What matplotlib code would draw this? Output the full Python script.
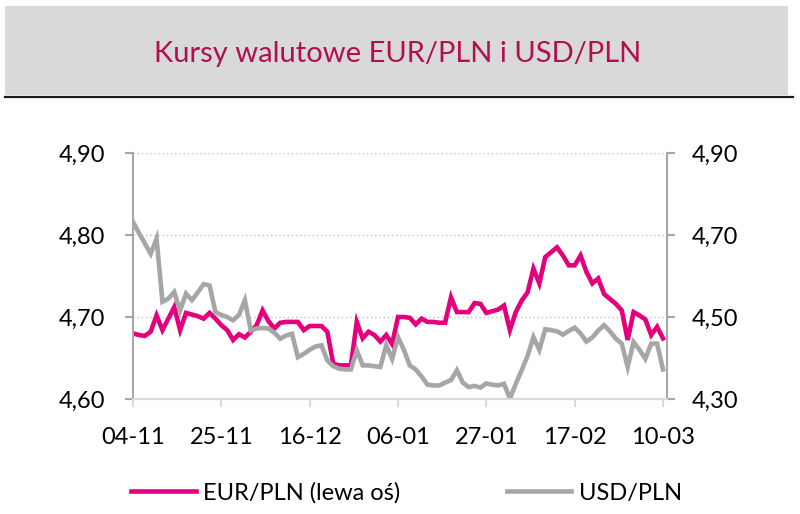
import matplotlib
matplotlib.use("Agg")
import matplotlib.pyplot as plt
from matplotlib.patches import Rectangle
from matplotlib.lines import Line2D

plt.rcParams['font.family'] = ['Lato', 'DejaVu Sans']

# daily fixings, business days 04-11 .. 10-03
eur_pln = [4.680, 4.678, 4.677, 4.682, 4.702, 4.684, 4.698, 4.712, 4.684, 4.705,
           4.703, 4.701, 4.698, 4.705, 4.698, 4.690, 4.684, 4.672, 4.679, 4.675,
           4.682, 4.690, 4.708, 4.695, 4.686, 4.693, 4.694, 4.694, 4.694, 4.684,
           4.689, 4.689, 4.689, 4.682, 4.643, 4.641, 4.641, 4.641, 4.694, 4.674,
           4.682, 4.678, 4.670, 4.678, 4.667, 4.700, 4.700, 4.699, 4.691, 4.698,
           4.694, 4.694, 4.693, 4.693, 4.724, 4.706, 4.706, 4.706, 4.717, 4.716,
           4.705, 4.707, 4.709, 4.714, 4.684, 4.706, 4.720, 4.730, 4.759, 4.741,
           4.773, 4.779, 4.785, 4.775, 4.763, 4.763, 4.775, 4.755, 4.741, 4.747,
           4.728, 4.722, 4.716, 4.708, 4.672, 4.706, 4.702, 4.697, 4.678, 4.688,
           4.674]

usd_pln = [4.732, 4.705, 4.680, 4.654, 4.691, 4.537, 4.545, 4.561, 4.516, 4.557,
           4.541, 4.560, 4.580, 4.577, 4.512, 4.505, 4.500, 4.492, 4.505, 4.541,
           4.467, 4.472, 4.473, 4.472, 4.462, 4.447, 4.455, 4.459, 4.402, 4.410,
           4.420, 4.428, 4.431, 4.394, 4.380, 4.374, 4.372, 4.372, 4.419, 4.382,
           4.382, 4.380, 4.378, 4.431, 4.398, 4.451, 4.420, 4.382, 4.372, 4.355,
           4.335, 4.333, 4.333, 4.340, 4.346, 4.370, 4.340, 4.329, 4.332, 4.328,
           4.338, 4.335, 4.333, 4.337, 4.301, 4.337, 4.370, 4.405, 4.451, 4.420,
           4.470, 4.468, 4.465, 4.457, 4.466, 4.474, 4.460, 4.440, 4.450, 4.467,
           4.480, 4.465, 4.447, 4.435, 4.378, 4.439, 4.420, 4.398, 4.435, 4.435,
           4.372]

date_labels = ['04-11', '25-11', '16-12', '06-01', '27-01', '17-02', '10-03']
left_ticks = [4.60, 4.70, 4.80, 4.90]
right_ticks = [4.30, 4.50, 4.70, 4.90]

pink = '#E4007C'
grey = '#A6A6A6'
title_col = '#B0104F'

fig = plt.figure(figsize=(8, 5.14), dpi=100)

# title band
fig.patches.append(Rectangle((5/800, 1-95/514), 783/800, 89/514, transform=fig.transFigure,
                             facecolor='#D9D9D9', edgecolor='none', zorder=0))
fig.lines.append(Line2D([5/800, 793/800], [1-97/514, 1-97/514], transform=fig.transFigure,
                        color='#1a1a1a', lw=1.6))
fig.text(0.497, 1-62/514, 'Kursy walutowe EUR/PLN i USD/PLN', ha='center', va='baseline',
         fontsize=21, color=title_col)

ax = fig.add_axes([133/800, 1-399/514, 534/800, 246/514])
ax2 = ax.twinx()

days = range(len(eur_pln))
l1, = ax.plot(days, eur_pln, color=pink, lw=3.3, solid_joinstyle='miter')
l2, = ax2.plot(days, usd_pln, color=grey, lw=3.3, solid_joinstyle='miter')

ax.set_xlim(0, 90.68)
ax.set_ylim(4.60, 4.90)
ax2.set_ylim(4.30, 4.90)
ax.set_yticks(left_ticks)
ax.set_yticklabels([f'{v:.2f}'.replace('.', ',') for v in left_ticks])
ax2.set_yticks(right_ticks)
ax2.set_yticklabels([f'{v:.2f}'.replace('.', ',') for v in right_ticks])
ax.set_xticks(range(0, 91, 15))
ax.set_xticklabels(date_labels)

for v in left_ticks[1:]:
    ax.axhline(v, color='#BFBFBF', lw=1.0, ls=(0, (1, 2)), zorder=0)

for a in (ax, ax2):
    a.spines['top'].set_visible(False)
    a.spines['left'].set_color(grey)
    a.spines['right'].set_color(grey)
    a.spines['left'].set_linewidth(1.5)
    a.spines['right'].set_linewidth(1.5)
    a.spines['bottom'].set_color('#D9D9D9')
    a.spines['bottom'].set_linewidth(1.5)
ax2.spines['left'].set_visible(False)
ax.spines['right'].set_visible(False)

ax.tick_params(axis='y', length=6, width=1.5, color=grey, pad=14, labelsize=17)
ax2.tick_params(axis='y', length=6, width=1.5, color=grey, pad=12, labelsize=17)
ax.tick_params(axis='x', length=6, width=1.5, color='#D9D9D9', pad=14, labelsize=17)

leg = ax.legend([l1, l2], ['EUR/PLN (lewa oś)', 'USD/PLN'], ncol=2, frameon=False,
                loc='center left', bbox_to_anchor=(131/800, 1-493/514),
                bbox_transform=fig.transFigure, borderpad=0, borderaxespad=0,
                handlelength=2.75, handletextpad=0.3, columnspacing=4.5, fontsize=17)

fig.savefig('out.png', dpi=100)
